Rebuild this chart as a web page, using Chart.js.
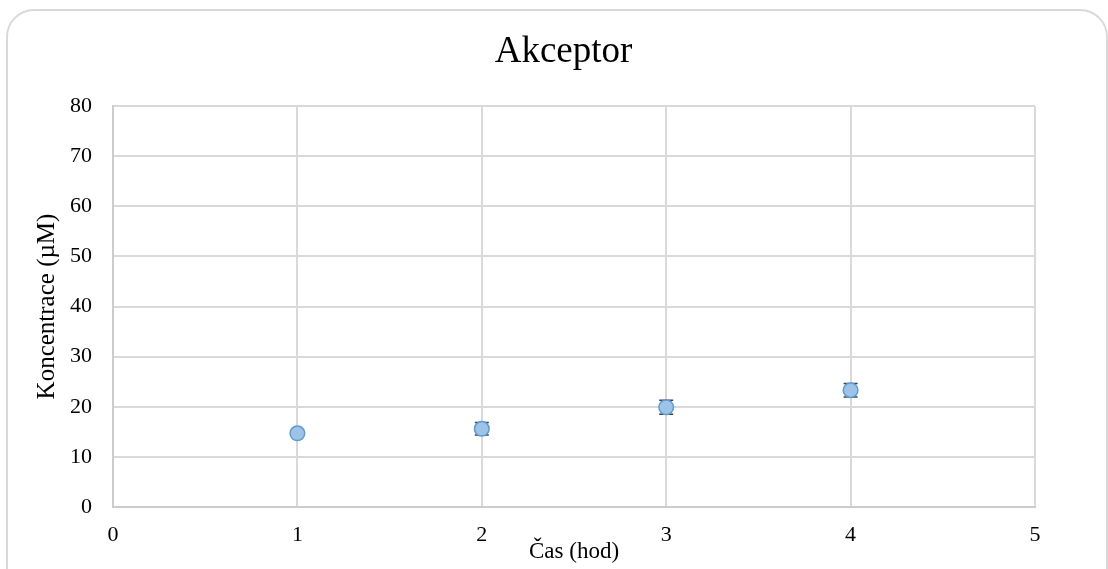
<!DOCTYPE html>
<html>
<head>
<meta charset="utf-8">
<script src="https://cdn.jsdelivr.net/npm/chart.js@4/dist/chart.umd.min.js"></script>
<style>
  html, body { margin: 0; padding: 0; background: #fff; overflow: hidden; width: 1108px; height: 569px; }
  #frame { position: absolute; left: 6px; top: 9px; width: 1098px; height: 620px; border: 2px solid #d9d9d9; border-radius: 28px; }
  #wrap { position: absolute; left: 0; top: 0; width: 1108px; height: 569px; }
</style>
</head>
<body>
<div id="frame"></div>
<div id="wrap"><canvas id="c" width="1108" height="569"></canvas></div>
<script>
const chartTitle = 'Akceptor';
const xTitle = 'Čas (hod)';
const yTitle = 'Koncentrace (µM)';
const times = [1, 2, 3, 4];
const concentrations = [14.7, 15.6, 19.9, 23.3];
const errors = [0.4, 1.26, 1.4, 1.33];
const xTicks = [0, 1, 2, 3, 4, 5];
const yTicks = [0, 10, 20, 30, 40, 50, 60, 70, 80];

const FONT = "'Liberation Serif', 'Times New Roman', serif";

const errorBars = {
  id: 'errorBars',
  beforeDatasetsDraw(chart) {
    const ctx = chart.ctx;
    const xs = chart.scales.x, ys = chart.scales.y;
    ctx.save();
    ctx.strokeStyle = '#404040';
    ctx.lineWidth = 1.5;
    times.forEach((t, i) => {
      const x = xs.getPixelForValue(t);
      const yTop = ys.getPixelForValue(concentrations[i] + errors[i]);
      const yBot = ys.getPixelForValue(concentrations[i] - errors[i]);
      ctx.beginPath();
      ctx.moveTo(x, yTop); ctx.lineTo(x, yBot);
      ctx.moveTo(x - 7, yTop); ctx.lineTo(x + 7, yTop);
      ctx.moveTo(x - 7, yBot); ctx.lineTo(x + 7, yBot);
      ctx.stroke();
    });
    ctx.restore();
  }
};

new Chart(document.getElementById('c'), {
  type: 'scatter',
  data: {
    datasets: [{
      label: chartTitle,
      data: times.map((t, i) => ({ x: t, y: concentrations[i] })),
      backgroundColor: '#9dc3e6',
      borderColor: '#5b9bd5',
      borderWidth: 1.5,
      pointRadius: 7.3,
      pointHoverRadius: 7.3
    }]
  },
  options: {
    responsive: false,
    animation: false,
    devicePixelRatio: 1,
    layout: { padding: { left: 32, right: 13, top: 30, bottom: 0 } },
    plugins: {
      legend: { display: false },
      tooltip: { enabled: false },
      title: {
        display: true,
        text: chartTitle,
        color: '#000',
        font: { family: FONT, size: 37, weight: 'normal', lineHeight: 1.2 },
        padding: { top: 0, bottom: 31.6 }
      }
    },
    scales: {
      x: {
        type: 'linear',
        min: 0, max: 5,
        afterBuildTicks: s => { s.ticks = xTicks.map(v => ({ value: v })); },
        afterFit: s => { s.height = 62; },
        grid: { color: '#d9d9d9', lineWidth: 2, drawTicks: false },
        border: { color: '#cccccc', width: 2 },
        ticks: { color: '#000', padding: 15, font: { family: FONT, size: 22 } },
        title: { display: true, text: xTitle, color: '#000', padding: { top: 0, bottom: 3 }, font: { family: FONT, size: 23, lineHeight: 1.2 } }
      },
      y: {
        type: 'linear',
        min: 0, max: 80,
        afterBuildTicks: s => { s.ticks = yTicks.map(v => ({ value: v })); },
        afterFit: s => { s.width = 81; },
        grid: { color: '#d9d9d9', lineWidth: 2, drawTicks: false },
        border: { color: '#cccccc', width: 2 },
        ticks: { color: '#000', padding: 21, font: { family: FONT, size: 22 } },
        title: { display: true, text: yTitle, color: '#000', padding: { top: 0, bottom: 0 }, font: { family: FONT, size: 25, lineHeight: 1.2 } }
      },
      yRight: {
        type: 'linear',
        position: 'right',
        display: true,
        min: 0, max: 80,
        afterFit: s => { s.width = 60; },
        grid: { display: false, drawOnChartArea: false },
        border: { display: false },
        ticks: { display: false }
      }
    }
  },
  plugins: [errorBars]
});
</script>
</body>
</html>
